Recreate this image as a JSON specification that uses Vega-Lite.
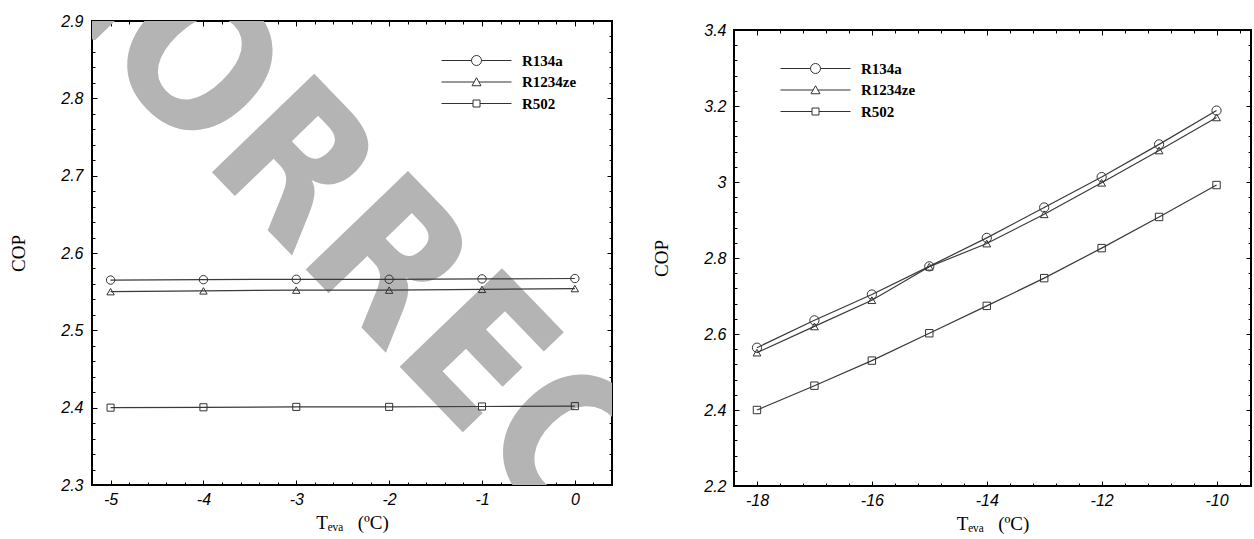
{
  "$schema": "https://vega.github.io/schema/vega-lite/v6.json",
  "background": "white",
  "padding": {"left": 8, "top": 12, "right": 0, "bottom": 0},
  "config": {
    "view": {"stroke": "black", "strokeWidth": 2},
    "axis": {
      "domain": false, "ticks": false, "grid": true, "gridColor": "black", "gridWidth": 1, "gridOpacity": 1,
      "tickCount": 100,
      "labelFont": "Liberation Sans", "labelFontStyle": "italic", "labelFontSize": 16, "labelColor": "black",
      "labelOverlap": false, "labelFlush": false,
      "titleFont": "Liberation Serif", "titleFontWeight": "normal", "titleFontSize": 19, "titleColor": "black"
    }
  },
  "datasets": {
    "left": [
      {"series": "R134a", "T": -5, "COP": 2.565}, {"series": "R134a", "T": -4, "COP": 2.5655}, {"series": "R134a", "T": -3, "COP": 2.566},
      {"series": "R134a", "T": -2, "COP": 2.566}, {"series": "R134a", "T": -1, "COP": 2.5665}, {"series": "R134a", "T": 0, "COP": 2.567},
      {"series": "R1234ze", "T": -5, "COP": 2.55}, {"series": "R1234ze", "T": -4, "COP": 2.551}, {"series": "R1234ze", "T": -3, "COP": 2.552},
      {"series": "R1234ze", "T": -2, "COP": 2.552}, {"series": "R1234ze", "T": -1, "COP": 2.553}, {"series": "R1234ze", "T": 0, "COP": 2.554},
      {"series": "R502", "T": -5, "COP": 2.4}, {"series": "R502", "T": -4, "COP": 2.4005}, {"series": "R502", "T": -3, "COP": 2.401},
      {"series": "R502", "T": -2, "COP": 2.401}, {"series": "R502", "T": -1, "COP": 2.4015}, {"series": "R502", "T": 0, "COP": 2.402}
    ],
    "right": [
      {"series": "R134a", "T": -18, "COP": 2.564}, {"series": "R134a", "T": -17, "COP": 2.636}, {"series": "R134a", "T": -16, "COP": 2.704},
      {"series": "R134a", "T": -15, "COP": 2.778}, {"series": "R134a", "T": -14, "COP": 2.853}, {"series": "R134a", "T": -13, "COP": 2.933},
      {"series": "R134a", "T": -12, "COP": 3.013}, {"series": "R134a", "T": -11, "COP": 3.099}, {"series": "R134a", "T": -10, "COP": 3.188},
      {"series": "R1234ze", "T": -18, "COP": 2.551}, {"series": "R1234ze", "T": -17, "COP": 2.62}, {"series": "R1234ze", "T": -16, "COP": 2.689},
      {"series": "R1234ze", "T": -15, "COP": 2.777}, {"series": "R1234ze", "T": -14, "COP": 2.838}, {"series": "R1234ze", "T": -13, "COP": 2.915},
      {"series": "R1234ze", "T": -12, "COP": 2.998}, {"series": "R1234ze", "T": -11, "COP": 3.083}, {"series": "R1234ze", "T": -10, "COP": 3.17},
      {"series": "R502", "T": -18, "COP": 2.4}, {"series": "R502", "T": -17, "COP": 2.464}, {"series": "R502", "T": -16, "COP": 2.53},
      {"series": "R502", "T": -15, "COP": 2.602}, {"series": "R502", "T": -14, "COP": 2.674}, {"series": "R502", "T": -13, "COP": 2.747},
      {"series": "R502", "T": -12, "COP": 2.826}, {"series": "R502", "T": -11, "COP": 2.908}, {"series": "R502", "T": -10, "COP": 2.992}
    ]
  },
  "bounds": "full",
  "spacing": 38,
  "resolve": {"scale": {"shape": "independent"}, "legend": {"shape": "independent"}},
  "hconcat": [
    {
      "width": 520,
      "height": 464,
      "layer": [
        {
          "data": {"values": [{}]},
          "mark": {"type": "text", "clip": true, "angle": 46, "fontSize": 195, "font": "DejaVu Sans Condensed, Liberation Sans", "fontWeight": "bold", "color": "#b4b4b4", "align": "center", "baseline": "middle"},
          "encoding": {
            "x": {"datum": -1.23, "type": "quantitative", "scale": {"domain": [-5.2, 0.4], "nice": false, "zero": false}},
            "y": {"datum": 2.481, "type": "quantitative", "scale": {"domain": [2.3, 2.9], "nice": false, "zero": false}},
            "text": {"value": "CORRECTED"}
          }
        },
        {
          "data": {"name": "left"},
          "encoding": {
            "x": {
              "field": "T", "type": "quantitative",
              "scale": {"domain": [-5.2, 0.4], "nice": false, "zero": false},
              "axis": {
                "title": "Tₑᵥₐ\u00a0\u00a0\u00a0(ºC)",
                "values": [-5.2,-5,-4.8,-4.6,-4.4,-4.2,-4,-3.8,-3.6,-3.4,-3.2,-3,-2.8,-2.6,-2.4,-2.2,-2,-1.8,-1.6,-1.4,-1.2,-1,-0.8,-0.6,-0.4,-0.2,0,0.2,0.4],
                "labelExpr": "abs(datum.value - round(datum.value)) < 0.001 ? '' + round(datum.value) : ''",
                "gridDash": {"condition": {"test": "abs(datum.value - round(datum.value)) < 0.001", "value": [5, 454, 5, 1000]}, "value": [3, 458, 3, 1000]},
                "labelPadding": 6, "titlePadding": 6
              }
            },
            "y": {
              "field": "COP", "type": "quantitative",
              "scale": {"domain": [2.3, 2.9], "nice": false, "zero": false},
              "axis": {
                "title": "COP",
                "values": [2.3,2.32,2.34,2.36,2.38,2.4,2.42,2.44,2.46,2.48,2.5,2.52,2.54,2.56,2.58,2.6,2.62,2.64,2.66,2.68,2.7,2.72,2.74,2.76,2.78,2.8,2.82,2.84,2.86,2.88,2.9],
                "labelExpr": "abs(datum.value*10 - round(datum.value*10)) < 0.001 ? '' + round(datum.value*10)/10 : ''",
                "gridDash": {"condition": {"test": "abs(datum.value*10 - round(datum.value*10)) < 0.001", "value": [5, 510, 5, 1000]}, "value": [3, 514, 3, 1000]},
                "labelPadding": 9, "titlePadding": 32
              }
            }
          },
          "layer": [
            {
              "mark": {"type": "line", "strokeWidth": 1.2, "color": "#3a3a3a"},
              "encoding": {"detail": {"field": "series", "type": "nominal"}}
            },
            {
              "transform": [{"filter": "datum.series === 'R134a'"}],
              "mark": {"type": "point", "shape": "circle", "filled": false, "strokeWidth": 1, "opacity": 1, "color": "#333333", "size": 70}
            },
            {
              "transform": [{"filter": "datum.series === 'R1234ze'"}],
              "mark": {"type": "point", "shape": "triangle-up", "filled": false, "strokeWidth": 1, "opacity": 1, "color": "#333333", "size": 55}
            },
            {
              "transform": [{"filter": "datum.series === 'R502'"}],
              "mark": {"type": "point", "shape": "square", "filled": false, "strokeWidth": 1, "opacity": 1, "color": "#333333", "size": 50}
            },
            {
              "transform": [{"filter": "false"}],
              "mark": {"type": "point", "filled": false, "strokeWidth": 1, "opacity": 1, "color": "#333333", "size": 100},
              "encoding": {
                "shape": {
                  "field": "series", "type": "nominal",
                  "scale": {"domain": ["R134a", "R1234ze", "R502"], "range": ["M-7,0L-1,0M1,0L7,0M1,0A1,1,0,1,1,-1,0A1,1,0,1,1,1,0Z", "M-7,0L-0.48,0M0.48,0L7,0M0,-0.85L0.9,0.75L-0.9,0.75Z", "M-7,0L-0.7,0M0.7,0L7,0M-0.7,-0.7L0.7,-0.7L0.7,0.7L-0.7,0.7Z"]},
                  "legend": {
                    "orient": "none", "legendX": 377, "legendY": 32, "title": null, "padding": 0,
                    "symbolSize": 100, "labelOffset": 38, "rowPadding": 5.5,
                    "labelFont": "Liberation Serif", "labelFontWeight": "bold", "labelFontSize": 15, "labelColor": "black",
                    "symbolStrokeColor": "#333333", "symbolFillColor": "transparent", "symbolStrokeWidth": 1
                  }
                }
              }
            }
          ]
        }
      ]
    },
    {
      "bounds": "flush",
      "spacing": 8,
      "resolve": {"scale": {"shape": "independent"}, "legend": {"shape": "independent"}},
      "vconcat": [
        {
          "width": 517,
          "height": 1,
          "view": {"stroke": null},
          "data": {"values": [{}]},
          "mark": {"type": "point", "opacity": 0, "size": 1},
          "encoding": {}
        },
        {
          "width": 517,
          "height": 456,
          "data": {"name": "right"},
          "encoding": {
            "x": {
              "field": "T", "type": "quantitative",
              "scale": {"domain": [-18.4, -9.4], "nice": false, "zero": false},
              "axis": {
                "title": "Tₑᵥₐ\u00a0\u00a0\u00a0(ºC)",
                "values": [-18.4,-18,-17.6,-17.2,-16.8,-16.4,-16,-15.6,-15.2,-14.8,-14.4,-14,-13.6,-13.2,-12.8,-12.4,-12,-11.6,-11.2,-10.8,-10.4,-10,-9.6],
                "labelExpr": "abs(datum.value/2 - round(datum.value/2)) < 0.001 ? '' + round(datum.value) : ''",
                "gridDash": {"condition": {"test": "abs(datum.value/2 - round(datum.value/2)) < 0.001", "value": [5, 446, 5, 1000]}, "value": [3, 450, 3, 1000]},
                "labelPadding": 6, "titlePadding": 6
              }
            },
            "y": {
              "field": "COP", "type": "quantitative",
              "scale": {"domain": [2.2, 3.4], "nice": false, "zero": false},
              "axis": {
                "title": "COP",
                "values": [2.2,2.24,2.28,2.32,2.36,2.4,2.44,2.48,2.52,2.56,2.6,2.64,2.68,2.72,2.76,2.8,2.84,2.88,2.92,2.96,3,3.04,3.08,3.12,3.16,3.2,3.24,3.28,3.32,3.36,3.4],
                "labelExpr": "abs(datum.value*5 - round(datum.value*5)) < 0.001 ? '' + round(datum.value*10)/10 : ''",
                "gridDash": {"condition": {"test": "abs(datum.value*5 - round(datum.value*5)) < 0.001", "value": [5, 507, 5, 1000]}, "value": [3, 511, 3, 1000]},
                "labelPadding": 8, "titlePadding": 32
              }
            }
          },
          "layer": [
            {
              "mark": {"type": "line", "strokeWidth": 1.2, "color": "#3a3a3a"},
              "encoding": {"detail": {"field": "series", "type": "nominal"}}
            },
            {
              "transform": [{"filter": "datum.series === 'R134a'"}],
              "mark": {"type": "point", "shape": "circle", "filled": false, "strokeWidth": 1, "opacity": 1, "color": "#333333", "size": 85}
            },
            {
              "transform": [{"filter": "datum.series === 'R1234ze'"}],
              "mark": {"type": "point", "shape": "triangle-up", "filled": false, "strokeWidth": 1, "opacity": 1, "color": "#333333", "size": 60}
            },
            {
              "transform": [{"filter": "datum.series === 'R502'"}],
              "mark": {"type": "point", "shape": "square", "filled": false, "strokeWidth": 1, "opacity": 1, "color": "#333333", "size": 55}
            },
            {
              "transform": [{"filter": "false"}],
              "mark": {"type": "point", "filled": false, "strokeWidth": 1, "opacity": 1, "color": "#333333", "size": 100},
              "encoding": {
                "shape": {
                  "field": "series", "type": "nominal",
                  "scale": {"domain": ["R134a", "R1234ze", "R502"], "range": ["M-7,0L-1,0M1,0L7,0M1,0A1,1,0,1,1,-1,0A1,1,0,1,1,1,0Z", "M-7,0L-0.48,0M0.48,0L7,0M0,-0.85L0.9,0.75L-0.9,0.75Z", "M-7,0L-0.7,0M0.7,0L7,0M-0.7,-0.7L0.7,-0.7L0.7,0.7L-0.7,0.7Z"]},
                  "legend": {
                    "orient": "none", "legendX": 74, "legendY": 31, "title": null, "padding": 0,
                    "symbolSize": 100, "labelOffset": 38, "rowPadding": 5.5,
                    "labelFont": "Liberation Serif", "labelFontWeight": "bold", "labelFontSize": 15, "labelColor": "black",
                    "symbolStrokeColor": "#333333", "symbolFillColor": "transparent", "symbolStrokeWidth": 1
                  }
                }
              }
            }
          ]
        }
      ]
    }
  ]
}
